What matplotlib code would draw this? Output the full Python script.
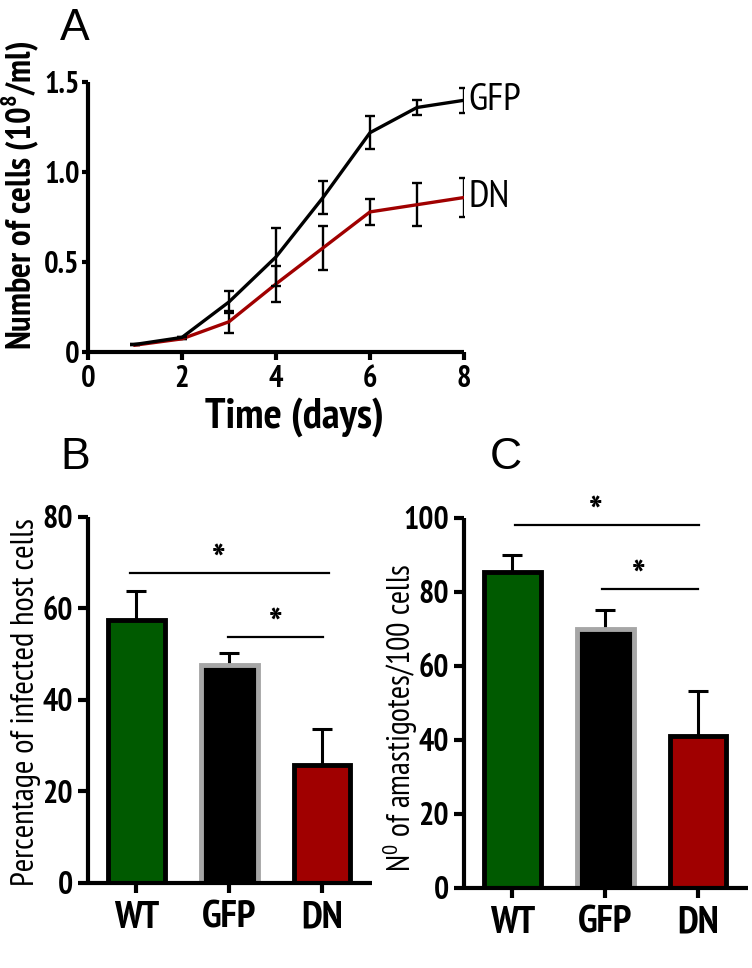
import matplotlib
matplotlib.use("Agg")
import matplotlib.pyplot as plt
import numpy as np

# ---------------- data ----------------
days = [1, 2, 3, 4, 5, 6, 7, 8]
gfp_mean = [0.044, 0.083, 0.28, 0.53, 0.86, 1.22, 1.36, 1.40]
gfp_err = [0.0, 0.0, 0.06, 0.16, 0.09, 0.09, 0.04, 0.07]
dn_mean = [0.040, 0.075, 0.17, 0.38, 0.58, 0.78, 0.82, 0.86]
dn_err = [0.0, 0.0, 0.06, 0.10, 0.12, 0.07, 0.12, 0.11]

groups = ["WT", "GFP", "DN"]
infected_mean = [57.4, 47.6, 25.8]
infected_err = [6.4, 2.6, 7.8]
amast_mean = [85.4, 70.0, 41.1]
amast_err = [4.6, 5.0, 12.0]

bar_fill = ["#005a00", "#000000", "#a00000"]
bar_edge = ["#000000", "#a6a6a6", "#000000"]

NARROW = ["PT Sans Narrow", "DejaVu Sans"]
REG = ["Liberation Sans", "DejaVu Sans"]
plt.rcParams["font.family"] = NARROW
plt.rcParams["font.stretch"] = "condensed"
plt.rcParams["mathtext.fontset"] = "custom"
plt.rcParams["mathtext.rm"] = "PT Sans Narrow"
plt.rcParams["mathtext.bf"] = "PT Sans Narrow:bold"

fig = plt.figure(figsize=(7.52, 9.68), dpi=100)

def style_axes(ax, spine_lw=3.0):
    for s in ["top", "right"]:
        ax.spines[s].set_visible(False)
    for s in ["left", "bottom"]:
        ax.spines[s].set_linewidth(spine_lw)
        ax.spines[s].set_capstyle("butt")

# ---------------- Panel A ----------------
axA = fig.add_axes([0.117, 0.636, 0.500, 0.279])
style_axes(axA)
axA.errorbar(days, gfp_mean, yerr=gfp_err, color="black", lw=2.4,
             ecolor="black", elinewidth=1.7, capsize=3.5, capthick=1.7, zorder=3)
axA.errorbar(days, dn_mean, yerr=dn_err, color="#a00000", lw=2.4,
             ecolor="black", elinewidth=1.7, capsize=3.5, capthick=1.7, zorder=2)
axA.set_xlim(0, 8)
axA.set_ylim(0, 1.5)
axA.set_xticks([0, 2, 4, 6, 8])
axA.set_yticks([0, 0.5, 1.0, 1.5])
axA.set_yticklabels(["0", "0.5", "1.0", "1.5"])
axA.tick_params(axis="x", length=6, width=3, pad=3, labelsize=22)
axA.tick_params(axis="y", length=4, width=3, pad=2, labelsize=22)
for lab in axA.get_xticklabels() + axA.get_yticklabels():
    lab.set_fontweight("bold")
axA.set_ylabel(r"Number of cells (10$^\mathbf{8}$/ml)", fontsize=25, fontweight="bold")
axA.yaxis.set_label_coords(-0.125, 0.58)
axA.set_xlabel("Time (days)", fontsize=31, fontweight="bold")
axA.xaxis.set_label_coords(0.55, -0.165)
axA.text(8.1, gfp_mean[-1], "GFP", fontsize=28, va="center", ha="left", clip_on=False)
axA.text(8.1, dn_mean[-1], "DN", fontsize=28, va="center", ha="left", clip_on=False)

# ---------------- bar panels ----------------
def bar_panel(ax, means, errs, ylim, yticks, ylabel, sig, ylsize):
    style_axes(ax)
    x = np.arange(len(groups))
    ax.errorbar(x, means, yerr=[np.zeros(len(errs)), errs], fmt="none",
                ecolor="black", elinewidth=2.2, capsize=7, capthick=2.2, zorder=1)
    ax.bar(x, means, width=0.61, color=bar_fill, edgecolor=bar_edge,
           linewidth=3.5, zorder=2)
    ax.set_xlim(-0.52, 2.54)
    ax.set_ylim(*ylim)
    ax.set_xticks(x)
    ax.set_xticklabels(groups)
    ax.set_yticks(yticks)
    ax.tick_params(axis="x", length=7, width=3, pad=6, labelsize=28)
    ax.tick_params(axis="y", length=7, width=3, pad=4, labelsize=23)
    for lab in ax.get_xticklabels() + ax.get_yticklabels():
        lab.set_fontweight("bold")
    ax.set_ylabel(ylabel, fontsize=ylsize)
    for (x0, x1, yl, xs, ys) in sig:
        ax.plot([x0, x1], [yl, yl], color="black", lw=1.6, clip_on=False)
        ax.text(xs, ys, "*", fontsize=30, fontweight="bold", ha="center",
                va="center", clip_on=False)

axB = fig.add_axes([0.117, 0.088, 0.378, 0.378])
bar_panel(axB, infected_mean, infected_err, (0, 80), [0, 20, 40, 60, 80],
          "Percentage of infected host cells",
          [(-0.07, 2.07, 67.7, 0.88, 69.8), (0.99, 2.01, 53.7, 1.5, 55.8)], 23.5)
axB.yaxis.set_label_coords(-0.166, 0.495)

axC = fig.add_axes([0.617, 0.083, 0.378, 0.382])
bar_panel(axC, amast_mean, amast_err, (0, 100), [0, 20, 40, 60, 80, 100],
          r"N$^\mathregular{0}$ of amastigotes/100 cells",
          [(0.03, 2.01, 98.1, 0.9, 100.6), (0.97, 2.0, 80.8, 1.36, 83.3)], 23)
axC.yaxis.set_label_coords(-0.155, 0.46)

# ---------------- panel letters ----------------
fig.text(75 / 752, 1 - 28 / 968, "A", fontsize=32, family=REG, ha="center", va="center")
fig.text(75 / 752, 1 - 458 / 968, "B", fontsize=32, family=REG, ha="center", va="center")
fig.text(506 / 752, 1 - 458 / 968, "C", fontsize=32, family=REG, ha="center", va="center")

fig.savefig("out.png", dpi=100)
